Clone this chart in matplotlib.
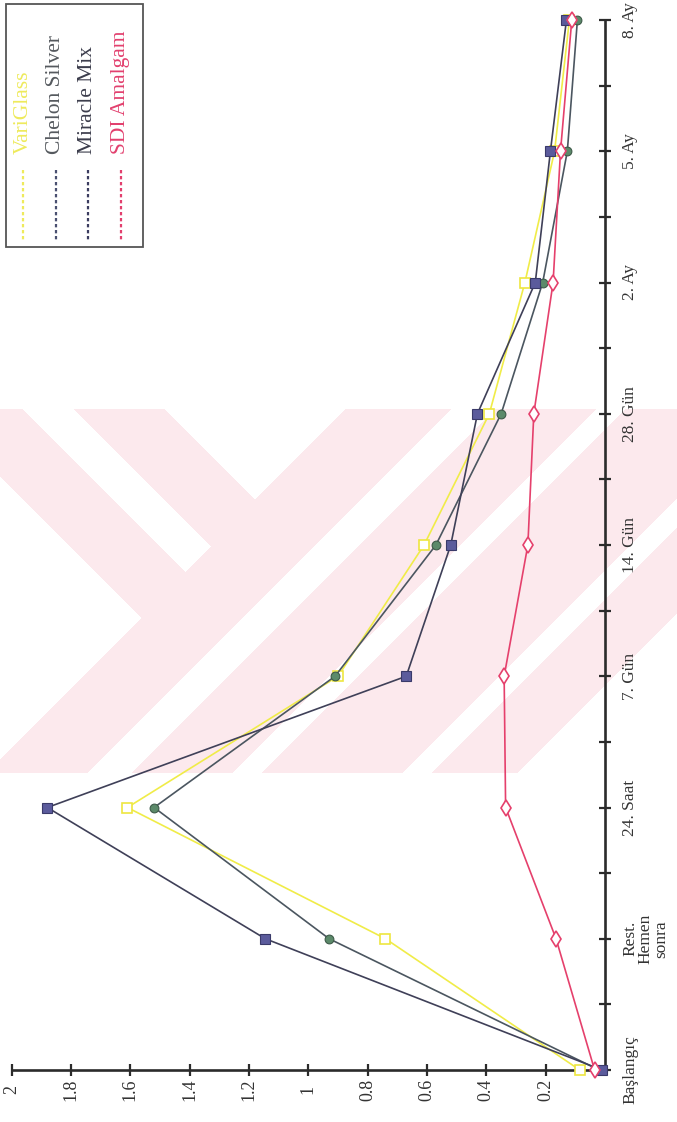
import numpy as np
import matplotlib
matplotlib.use("Agg")
import matplotlib.pyplot as plt
from matplotlib.patches import Rectangle

# categories run bottom -> top (chart is printed rotated on the page)
categories = ['Başlangıç', 'Rest.\nHemen\nsonra', '24. Saat', '7. Gün', '14. Gün',
              '28. Gün', '2. Ay', '5. Ay', '8. Ay']
variglass = [0.085, 0.74, 1.61, 0.90, 0.61, 0.39, 0.27, 0.17, 0.12]
chelon = [0.02, 0.93, 1.52, 0.91, 0.57, 0.35, 0.21, 0.127, 0.093]
miracle = [0.01, 1.145, 1.88, 0.67, 0.52, 0.43, 0.235, 0.184, 0.13]
sdi = [0.035, 0.165, 0.335, 0.34, 0.26, 0.24, 0.175, 0.15, 0.112]
value_ticks = [0.2, 0.4, 0.6, 0.8, 1.0, 1.2, 1.4, 1.6, 1.8, 2.0]
series_names = ['VariGlass', 'Chelon Silver', 'Miracle Mix', 'SDI Amalgam']

W, H = 677, 1122
SERIF = 'Liberation Serif'
AXC = '#2b2b2b'

fig = plt.figure(figsize=(W / 100, H / 100), dpi=100)

# background layer in pixel coordinates: scanned-page watermark + legend box
bg = fig.add_axes([0, 0, 1, 1])
bg.set_xlim(0, W)
bg.set_ylim(H, 0)
bg.axis('off')

yy, xx = np.mgrid[0:H, 0:W] + 0.5
u = np.abs(xx - 255) + yy
v = xx + yy
inside = (yy >= 409) & (yy <= 773)
white = (u < 500) \
    | ((u > 590) & (u < 642) & (xx < 255) & (v < 758)) \
    | ((xx < 255) & (u > 731) & (v < 760)) \
    | ((v > 860) & (v < 905)) \
    | ((v > 1005) & (v < 1035)) \
    | ((v > 1175) & (v < 1205)) \
    | (v > 1290)
rgba = np.zeros((H, W, 4))
rgba[..., 0] = 252 / 255
rgba[..., 1] = 233 / 255
rgba[..., 2] = 237 / 255
rgba[..., 3] = (inside & ~white).astype(float)
bg.imshow(rgba, extent=(0, W, H, 0), interpolation='nearest', aspect='auto', zorder=0)

# legend (rotated, drawn by hand)
bg.add_patch(Rectangle((6, 4), 137, 243, fill=False, edgecolor='#555555', lw=1.3, zorder=2))
leg_colors = ['#eeea5c', '#55595e', '#3c3d4c', '#e2406e']
leg_line_colors = ['#eeea5c', '#4a5070', '#3c3d60', '#e2406e']
for i, (name, tc, lc) in enumerate(zip(series_names, leg_colors, leg_line_colors)):
    x = 23 + i * 32.5
    bg.text(x, 154, name, rotation=90, ha='center', va='bottom', color=tc,
            family=SERIF, fontsize=15.5, zorder=3)
    bg.plot([x, x], [170, 242], color=lc, lw=1.6, ls=(0, (1.5, 1.2)), zorder=3)

# main chart: value axis horizontal (2 on the left), categories vertical
left_px, right_px = 11.7, 605
bottom_px, top_px = 1070, 20
ax = fig.add_axes([left_px / W, (H - bottom_px) / H,
                   (right_px - left_px) / W, (bottom_px - top_px) / H])
ax.patch.set_visible(False)
ax.set_xlim(2.0, 0.0)
ax.set_ylim(0, len(categories) - 1)

for s in ['left', 'top']:
    ax.spines[s].set_visible(False)
for s in ['bottom', 'right']:
    ax.spines[s].set_color(AXC)
    ax.spines[s].set_linewidth(1.9)

pos = np.arange(len(categories))

ax.plot(variglass, pos, color='#f0ec48', lw=1.2, marker='s', ms=7,
        mfc='white', mec='#eee640', mew=1.2, clip_on=False, zorder=3)
ax.plot(chelon, pos, color='#4b5660', lw=1.2, marker='o', ms=6.3,
        mfc='#5c8a6a', mec='#3d5a48', mew=0.8, clip_on=False, zorder=3)
ax.plot(miracle, pos, color='#3f4058', lw=1.2, marker='s', ms=6.5,
        mfc='#5b5b9c', mec='#3a3a6a', mew=0.8, clip_on=False, zorder=3)
ax.plot(sdi, pos, color='#e5406c', lw=1.2, marker='d', ms=8,
        mfc='white', mec='#e5406c', mew=1.2, clip_on=False, zorder=3)

ax.set_xticks(value_ticks)
ax.set_xticklabels([f'{np.round(t, 1):g}' for t in value_ticks])
ax.tick_params(axis='x', direction='inout', length=9, width=1.6, color=AXC,
               pad=9.5, labelsize=13, labelcolor='#333333', labelrotation=90)
for lbl in ax.get_xticklabels():
    lbl.set_va('center')
    lbl.set_ha('center')
    lbl.set_family(SERIF)

ax.yaxis.tick_right()
ax.set_yticks(pos)
ax.set_yticklabels(categories)
ax.set_yticks(pos[:-1] + 0.5, minor=True)
ax.tick_params(axis='y', which='both', direction='inout', length=9, width=1.6,
               color=AXC, right=True, left=False, labelright=True, labelleft=False,
               pad=8, labelsize=12.5, labelcolor='#333333')
for lbl in ax.get_yticklabels():
    lbl.set_rotation(90)
    lbl.set_ha('left')
    lbl.set_va('center')
    lbl.set_multialignment('center')
    lbl.set_linespacing(0.95)
    lbl.set_family(SERIF)

fig.savefig('out.png', dpi=100)
